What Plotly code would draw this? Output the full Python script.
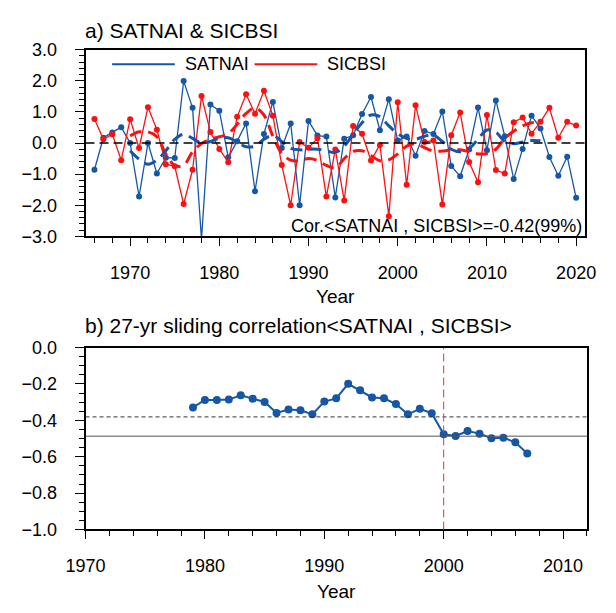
import plotly.graph_objects as go

# ---------------- data ----------------
years = list(range(1966, 2021))
satnai = [-0.86, 0.17, 0.34, 0.51, 0.00, -1.72, 0.00, -0.98, -0.47, -0.48,
          1.99, 1.13, -3.10, 1.24, 1.04, -0.46, 0.06, 0.63, -1.55, 0.29,
          1.32, -0.16, 0.63, -2.00, 0.71, 0.24, 0.21, -1.75, 0.14, 0.25,
          0.93, 1.48, 0.41, 1.41, 0.08, 0.21, -0.41, 0.39, 0.29, 1.01,
          -0.74, -1.07, -0.21, 1.14, -0.23, 1.37, 0.22, -1.16, -0.19, 0.88,
          0.47, -0.45, -1.05, -0.44, -1.76]
sicbsi = [0.77, 0.12, 0.28, -0.55, 0.76, -0.16, 1.15, 0.43, -0.68, -0.75,
          -1.96, -0.86, 1.51, 0.35, -0.19, -0.62, 0.84, 1.57, 0.94, 1.68,
          0.88, -0.71, -2.00, 0.03, -0.15, 0.15, -1.72, -0.21, -1.85, 0.55,
          0.30, -0.56, -0.06, -2.35, 1.31, -1.34, 1.21, 0.03, 0.08, -1.98,
          0.25, 0.98, -0.61, -1.26, 0.90, -0.87, -0.98, 0.67, 0.82, 0.30,
          0.68, 1.13, 0.17, 0.68, 0.56]

smooth_years = list(range(1970, 2017))
satnai_smooth = [-0.25, -0.52, -0.68, -0.55, -0.25, 0.12, 0.28, 0.15, 0.00, 0.05,
                 0.15, 0.17, 0.03, -0.12, -0.10, 0.12, 0.24, 0.05, -0.17, -0.22,
                 -0.20, -0.20, -0.25, -0.30, -0.10, 0.28, 0.65, 0.90, 0.85, 0.55,
                 0.30, 0.15, 0.12, 0.22, 0.25, 0.05, -0.20, -0.28, -0.18, 0.12,
                 0.42, 0.35, 0.05, -0.02, 0.03, 0.08, 0.07]
sicbsi_smooth = [0.23, 0.36, 0.36, 0.20, -0.35, -0.72, -0.72, -0.28, -0.02, 0.12,
                 0.20, 0.30, 0.60, 0.95, 1.13, 0.90, 0.22, -0.33, -0.55, -0.57,
                 -0.50, -0.56, -0.72, -0.80, -0.50, -0.27, -0.25, -0.40, -0.57, -0.54,
                 -0.35, -0.10, -0.02, -0.15, -0.26, -0.26, -0.22, -0.22, -0.28, -0.35,
                 -0.34, -0.20, 0.15, 0.38, 0.55, 0.65, 0.68]

slide_years = list(range(1979, 2008))
slide_corr = [-0.329, -0.288, -0.288, -0.286, -0.262, -0.281, -0.299, -0.359, -0.340, -0.345,
              -0.367, -0.297, -0.279, -0.199, -0.235, -0.274, -0.279, -0.310, -0.367, -0.336,
              -0.361, -0.477, -0.486, -0.459, -0.473, -0.498, -0.495, -0.521, -0.582]

sig95 = -0.381
sig99 = -0.487
break_year = 2000
cor_text = "Cor.<SATNAI , SICBSI>=-0.42(99%)"

# ---------------- style ----------------
W, H = 616, 613
BLUE = "#1557a6"
RED = "#ff1010"
FONT = "Liberation Sans, Arial, Helvetica, sans-serif"

def px(x):
    return x / W

def py(y):
    return 1 - y / H

fig = go.Figure()

# top panel
fig.add_trace(go.Scatter(x=years, y=satnai, mode="lines+markers", xaxis="x", yaxis="y",
                         line=dict(color=BLUE, width=1.3), marker=dict(color=BLUE, size=6),
                         showlegend=False))
fig.add_trace(go.Scatter(x=years, y=sicbsi, mode="lines+markers", xaxis="x", yaxis="y",
                         line=dict(color=RED, width=1.3), marker=dict(color=RED, size=6),
                         showlegend=False))
fig.add_trace(go.Scatter(x=smooth_years, y=sicbsi_smooth, mode="lines", xaxis="x", yaxis="y",
                         line=dict(color=RED, width=3, dash="12px,7px", shape="spline"),
                         showlegend=False))
fig.add_trace(go.Scatter(x=smooth_years, y=satnai_smooth, mode="lines", xaxis="x", yaxis="y",
                         line=dict(color=BLUE, width=3, dash="12px,7px", shape="spline"),
                         showlegend=False))

# bottom panel
fig.add_trace(go.Scatter(x=slide_years, y=slide_corr, mode="lines+markers", xaxis="x2", yaxis="y2",
                         line=dict(color=BLUE, width=2), marker=dict(color=BLUE, size=8),
                         showlegend=False))

top_box = (69, 595, 41, 234)
bot_box = (69, 597, 349, 537)

axis_common = dict(showline=True, linewidth=2, linecolor="black", mirror=True,
                   ticks="outside", tickcolor="black", tickwidth=1.2, showgrid=False,
                   zeroline=False, tickfont=dict(family=FONT, size=18, color="black"))

fig.update_layout(
    width=W, height=H, margin=dict(l=0, r=0, t=0, b=0),
    paper_bgcolor="white", plot_bgcolor="white",
    xaxis=dict(domain=[px(top_box[0]), px(top_box[1])], range=[1965, 2021], dtick=10, tick0=1970,
               ticklen=8, anchor="y", ticklabelstandoff=11,
               minor=dict(dtick=2, tick0=1966, ticklen=5, ticks="outside", tickcolor="black", showgrid=False),
               **axis_common),
    yaxis=dict(domain=[py(top_box[3]), py(top_box[2])], range=[-3, 3], dtick=1, tickformat=".1f",
               ticklen=9, anchor="x", ticklabelstandoff=14,
               minor=dict(dtick=0.2, ticklen=5, ticks="outside", tickcolor="black", showgrid=False),
               **axis_common),
    xaxis2=dict(domain=[px(bot_box[0]), px(bot_box[1])], range=[1970, 2012], dtick=10, tick0=1970,
                ticklen=8, anchor="y2", ticklabelstandoff=11,
                minor=dict(dtick=2, ticklen=5, ticks="outside", tickcolor="black", showgrid=False),
                **axis_common),
    yaxis2=dict(domain=[py(bot_box[3]), py(bot_box[2])], range=[-1, 0], dtick=0.2, tickformat=".1f",
                ticklen=9, anchor="x2", ticklabelstandoff=14,
                minor=dict(dtick=0.05, ticklen=5, ticks="outside", tickcolor="black", showgrid=False),
                **axis_common),
)

shapes = [
    dict(type="line", xref="x domain", yref="y", x0=0, x1=1, y0=0, y1=0,
         line=dict(color="black", width=1.6, dash="9px,5px")),
    dict(type="line", xref="x2 domain", yref="y2", x0=0, x1=1, y0=sig95, y1=sig95,
         line=dict(color="#333333", width=1, dash="4px,3px")),
    dict(type="line", xref="x2 domain", yref="y2", x0=0, x1=1, y0=sig99, y1=sig99,
         line=dict(color="#555555", width=1)),
    dict(type="line", xref="x2", yref="y2 domain", x0=break_year, x1=break_year, y0=0, y1=1,
         line=dict(color="#e8303a", width=1, dash="8px,4px")),
    # legend lines
    dict(type="line", xref="paper", yref="paper", x0=px(97), x1=px(163), y0=py(56), y1=py(56),
         line=dict(color=BLUE, width=2)),
    dict(type="line", xref="paper", yref="paper", x0=px(247), x1=px(313), y0=py(56), y1=py(56),
         line=dict(color=RED, width=2)),
]
fig.update_layout(shapes=shapes)

ann = [
    dict(text="SATNAI", x=px(172), y=py(56), xanchor="left", yanchor="middle"),
    dict(text="SICBSI", x=px(321), y=py(56), xanchor="left", yanchor="middle"),
    dict(text=cor_text, x=px(594), y=py(223), xanchor="right", yanchor="middle"),
    dict(text="a) SATNAI & SICBSI", x=px(66), y=py(21), xanchor="left", yanchor="middle",
         font=dict(family=FONT, size=21, color="black")),
    dict(text="b) 27-yr sliding correlation<SATNAI , SICBSI>", x=px(66), y=py(326),
         xanchor="left", yanchor="middle", font=dict(family=FONT, size=21, color="black")),
    dict(text="Year", x=px((top_box[0] + top_box[1]) / 2), y=py(296), xanchor="center", yanchor="middle",
         font=dict(family=FONT, size=19, color="black")),
    dict(text="Year", x=px((bot_box[0] + bot_box[1]) / 2), y=py(601), xanchor="center", yanchor="middle",
         font=dict(family=FONT, size=19, color="black")),
]
for a in ann:
    a.setdefault("font", dict(family=FONT, size=18, color="black"))
    a.update(xref="paper", yref="paper", showarrow=False)
fig.update_layout(annotations=ann)

fig.write_html("out.html",
               config={"displayModeBar": False},
               post_script="document.body.style.margin='0';document.body.style.padding='0';")
